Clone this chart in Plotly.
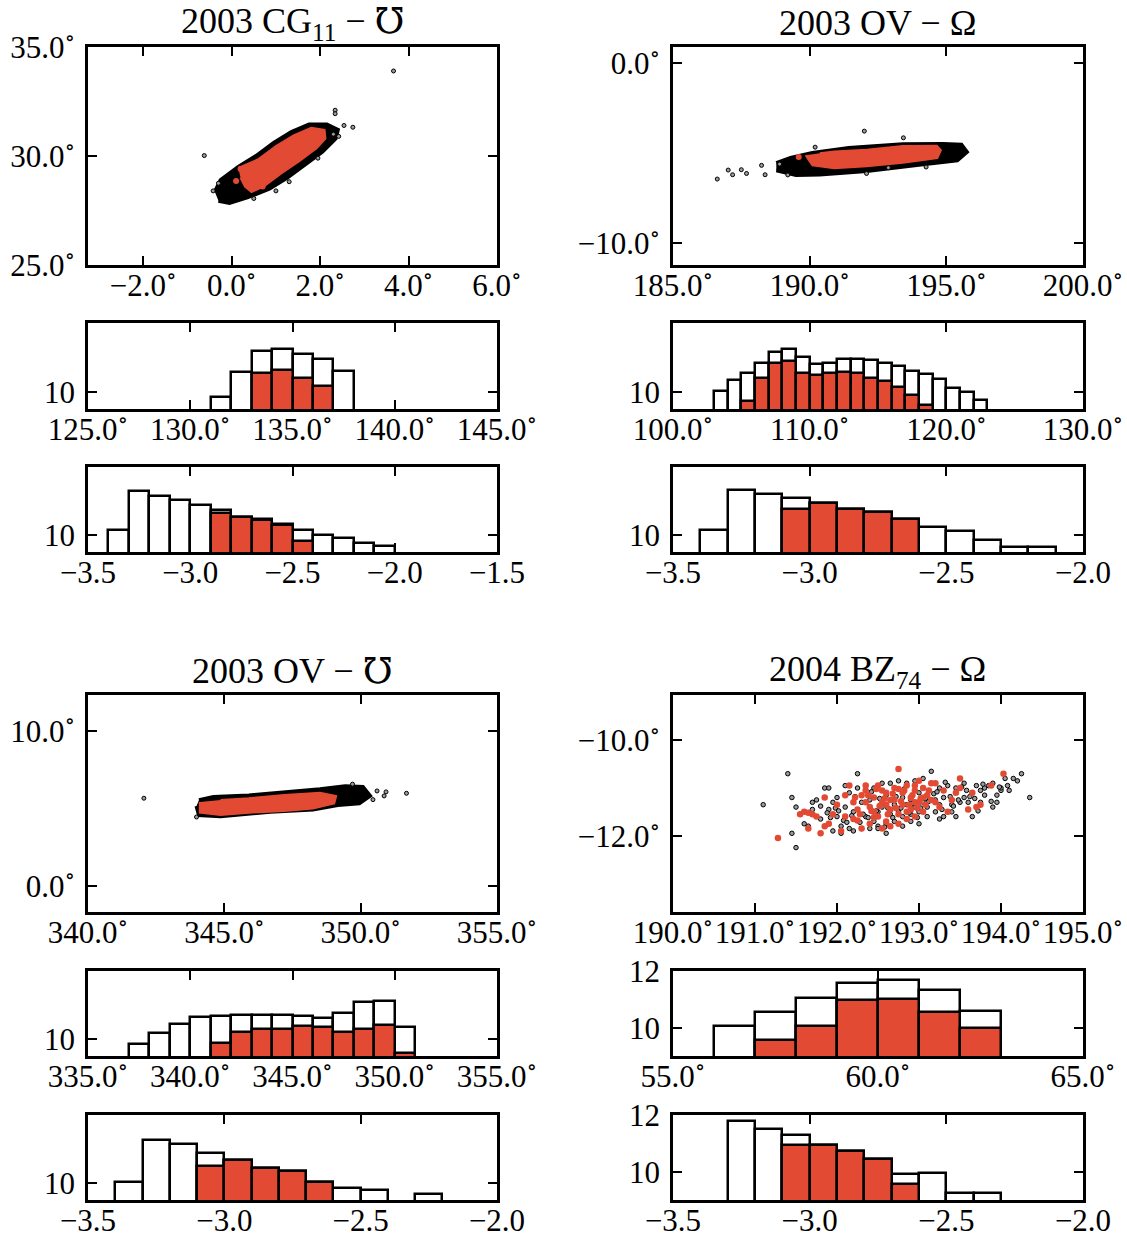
import plotly.graph_objects as go

W, H = 1127, 1236          # screenshot size (page margin removed below)
RED = "#E24A33"
FONT = "Liberation Serif, Times New Roman, DejaVu Serif, serif"
TICK_SIZE = 31
TITLE_SIZE = 36

# ---------------- titles ----------------
titles = ["2003 CG<sub>11</sub> − ℧", "2003 OV − Ω", "2003 OV − ℧", "2004 BZ<sub>74</sub> − Ω"]

# ---------------- scatter panels: dense-cloud outlines + individual points ----------------
# Panel A : 2003 CG11
a_black_x = [-0.38, -0.25, 0.15, 0.55, 0.95, 1.35, 1.75, 2.15, 2.40, 2.35, 2.05, 1.65, 1.25, 0.85, 0.35, -0.05, -0.30]
a_black_y = [28.35, 28.90, 29.50, 30.00, 30.60, 31.10, 31.45, 31.45, 31.20, 30.80, 30.20, 29.60, 29.00, 28.50, 28.10, 27.85, 27.95]
a_red_x = [0.15, 0.60, 1.00, 1.40, 1.80, 2.10, 2.12, 1.92, 1.52, 1.12, 0.72, 0.45, 0.30, 0.20]
a_red_y = [29.45, 29.85, 30.45, 30.95, 31.30, 31.20, 30.80, 30.35, 29.75, 29.20, 28.60, 28.35, 28.60, 29.00]
a_pts_x = [-0.62, 3.66, 2.34, 2.34, 2.54, 2.74, 1.30, 2.30, -0.42, -0.30, 0.50, 1.95, 2.42, 1.00]
a_pts_y = [30.02, 33.90, 32.10, 31.94, 31.40, 31.32, 28.82, 31.00, 28.40, 28.75, 28.05, 29.90, 30.90, 28.40]
a_rpts_x = [0.20, 0.10, 0.95, 0.70]
a_rpts_y = [29.40, 28.85, 30.10, 28.60]

# Panel B : 2003 OV (Omega)
b_black_x = [188.78, 189.50, 190.37, 192.09, 194.07, 195.40, 195.75, 195.55, 194.87, 193.41, 191.43, 190.10, 189.30, 188.78]
b_black_y = [-5.95, -6.20, -6.18, -5.98, -5.62, -5.39, -4.93, -4.52, -4.48, -4.50, -4.70, -4.98, -5.25, -5.55]
b_red_x = [189.85, 190.10, 190.90, 192.09, 193.41, 194.67, 194.80, 194.65, 193.41, 192.09, 190.90, 190.37]
b_red_y = [-5.11, -5.67, -5.83, -5.72, -5.52, -5.26, -4.83, -4.58, -4.60, -4.80, -4.90, -5.00]
b_pts_x = [186.62, 187.02, 187.18, 187.50, 187.69, 188.24, 188.37, 192.00, 193.43, 190.20, 192.08, 194.26, 192.88, 188.90, 189.20]
b_pts_y = [-6.43, -5.93, -6.19, -5.91, -6.12, -5.67, -6.19, -3.77, -4.14, -4.66, -6.12, -5.76, -5.80, -5.60, -6.20]
b_rpts_x = [190.30, 190.60, 189.60]
b_rpts_y = [-5.40, -5.10, -5.20]

# Panel C : 2003 OV (varpi)
c_black_x = [343.98, 344.07, 344.86, 346.68, 348.25, 349.16, 349.95, 350.34, 350.08, 349.43, 348.51, 347.20, 345.90, 344.60, 344.07]
c_black_y = [5.14, 4.55, 4.48, 4.76, 4.92, 5.20, 5.32, 5.79, 6.36, 6.42, 6.22, 6.00, 5.82, 5.72, 5.52]
c_red_x = [344.10, 344.10, 344.86, 345.90, 347.20, 348.25, 349.03, 349.10, 348.51, 347.20, 345.90, 344.86]
c_red_y = [5.40, 4.71, 4.56, 4.71, 4.82, 4.97, 5.31, 5.79, 6.00, 5.85, 5.64, 5.53]
c_pts_x = [342.05, 351.68, 343.98, 350.60, 350.93, 350.86, 350.45, 349.70]
c_pts_y = [5.64, 5.96, 4.43, 6.11, 6.05, 5.79, 5.55, 6.55]
c_rpts_x = []
c_rpts_y = []

# Panel D : 2004 BZ74 (sparse cloud, individual points)
d_black_x = [191.10, 191.40, 191.50, 191.45, 194.35, 194.25, 194.15, 194.20, 194.05, 193.15, 192.25,
             191.55, 191.50, 191.60, 191.65, 191.70, 191.75, 191.80, 191.85, 191.90, 191.95, 192.00,
             192.05, 192.10, 192.15, 192.20, 192.25, 192.30, 192.35, 192.40, 192.45, 192.50, 192.55,
             192.60, 192.65, 192.70, 192.75, 192.80, 192.85, 192.90, 192.95, 193.00, 193.05, 193.10,
             193.15, 193.20, 193.25, 193.30, 193.35, 193.40, 193.45, 193.50, 193.55, 193.60, 193.65,
             193.70, 193.75, 193.80, 193.85, 193.90, 193.95, 194.00, 193.45, 193.30, 192.30, 192.50,
             192.60, 192.70, 192.80, 192.90, 193.00, 192.20, 192.10, 192.00, 191.90, 192.40, 192.55,
             192.75, 192.95, 193.10, 193.20, 193.40, 193.55, 193.75, 191.95, 192.05, 192.15, 192.35,
             192.45, 192.65, 192.85, 193.05, 193.25, 193.35, 193.60, 193.80, 193.90, 194.10, 193.65,
             193.25, 192.90, 192.60, 192.50, 192.80, 193.00, 193.10, 191.45, 194.00, 193.95,
             191.70, 191.80, 191.88, 191.98, 192.08, 192.18, 192.28, 192.38, 192.48, 192.58, 192.68,
             192.78, 192.88, 192.98, 193.08, 193.18, 193.28, 193.38, 193.48, 193.58, 193.68, 193.78,
             193.88, 193.98, 194.08, 191.92, 192.02, 192.12, 192.22, 192.32, 192.42, 192.52, 192.62,
             192.72, 192.82, 192.92, 193.02, 193.12, 193.22, 193.32, 193.42, 193.52, 193.62, 193.72]
d_black_y = [-11.35, -10.70, -12.25, -11.95, -11.20, -10.70, -10.80, -10.85, -10.80, -10.65, -10.70,
             -11.55, -11.40, -11.75, -11.80, -11.30, -11.25, -11.65, -11.00, -11.00, -11.90, -11.20,
             -11.95, -10.95, -11.85, -11.90, -11.00, -11.85, -10.95, -11.85, -11.00, -11.80, -10.90,
             -11.75, -10.90, -11.70, -10.85, -11.60, -10.90, -11.55, -10.85, -11.50, -10.80, -11.40,
             -10.90, -11.50, -11.00, -11.20, -10.95, -11.50, -11.00, -11.30, -10.90, -11.45, -11.10,
             -10.95, -11.30, -11.15, -10.95, -11.40, -11.15, -11.05, -11.60, -11.60, -11.30, -11.50,
             -11.15, -11.35, -11.20, -11.25, -11.10, -11.50, -11.40, -11.60, -11.45, -11.25, -11.40,
             -11.50, -11.40, -11.15, -11.25, -11.35, -11.20, -11.05, -11.30, -11.80, -11.10, -11.60,
             -11.70, -11.55, -11.35, -11.30, -11.35, -11.50, -11.30, -11.00, -10.90, -11.05, -11.60,
             -11.65, -11.70, -11.95, -11.85, -11.80, -11.75, -11.60, -11.20, -11.00, -11.30,
             -11.45, -11.38, -11.52, -11.42, -11.68, -11.58, -11.72, -11.62, -11.48, -11.82, -11.62,
             -11.42, -11.52, -11.62, -11.22, -11.12, -11.45, -11.18, -11.25, -11.05, -11.22, -10.92,
             -11.28, -10.98, -10.95, -11.62, -11.48, -11.72, -11.18, -11.55, -11.08, -11.22, -11.42,
             -11.18, -11.02, -11.32, -11.42, -11.28, -11.08, -10.88, -11.38, -10.98, -11.18, -11.48]
d_red_x = [191.28, 191.55, 191.60, 191.65, 191.70, 191.75, 191.65, 191.80, 191.85, 191.90, 191.85,
           192.00, 192.05, 192.10, 192.15, 192.20, 192.25, 192.30, 192.30, 192.35, 192.40, 192.45,
           192.50, 192.50, 192.55, 192.60, 192.60, 192.65, 192.70, 192.70, 192.75, 192.75, 192.80,
           192.80, 192.85, 192.85, 192.90, 192.95, 192.95, 193.00, 193.00, 193.05, 193.10, 193.15,
           193.20, 193.25, 193.30, 193.35, 193.45, 193.50, 193.50, 193.60, 193.65, 193.70, 193.75,
           193.88, 194.03, 192.40, 192.55, 192.20, 192.65, 192.45, 192.90, 193.05, 191.95, 192.10,
           193.20, 193.40, 192.35, 192.60, 192.75, 192.95,
           192.22, 192.28, 192.38, 192.42, 192.48, 192.52, 192.58, 192.62, 192.68, 192.72, 192.78,
           192.82, 192.88, 192.92, 192.98, 193.02, 193.08, 193.12, 192.25, 192.45, 192.65, 192.85,
           193.05, 192.35, 192.55, 192.75, 192.95, 193.15]
d_red_y = [-12.05, -11.55, -11.50, -11.52, -11.55, -11.60, -11.85, -11.95, -11.80, -11.75, -11.20,
           -11.35, -11.90, -11.60, -10.95, -11.30, -11.45, -11.15, -11.85, -11.05, -11.40, -11.20,
           -11.60, -10.95, -11.30, -11.10, -11.70, -11.45, -11.00, -11.25, -10.60, -11.55, -11.10,
           -11.35, -10.95, -11.65, -11.20, -11.05, -11.60, -10.85, -11.30, -11.00, -11.15, -10.90,
           -11.30, -11.40, -11.05, -11.50, -11.10, -10.80, -11.00, -11.45, -11.10, -11.40, -11.35,
           -10.95, -10.70, -11.75, -11.85, -11.65, -11.80, -11.50, -11.45, -11.50, -11.55, -11.15,
           -10.90, -11.25, -11.30, -11.35, -11.75, -10.95,
           -11.20, -11.55, -11.15, -11.48, -11.02, -11.38, -11.22, -11.55, -11.12, -11.42, -11.28,
           -11.05, -11.35, -11.15, -11.42, -11.22, -11.35, -11.05, -11.68, -11.62, -11.25, -11.50,
           -11.20, -10.95, -11.05, -11.02, -11.30, -11.25]

# ---------------- histograms (bin left edges, bin width, heights) ----------------
a_h1_bins = [131, 132, 133, 134, 135, 136, 137]
a_h1_w = 1.0
a_h1_all = [9.69, 11.14, 12.40, 12.47, 12.20, 11.88, 11.20]
a_h1_sel = [None, None, 11.12, 11.24, 10.81, 10.31, None]

a_h2_bins = [-3.4, -3.3, -3.2, -3.1, -3.0, -2.9, -2.8, -2.7, -2.6, -2.5, -2.4, -2.3, -2.2, -2.1]
a_h2_w = 0.1
a_h2_all = [10.28, 12.57, 12.32, 12.06, 11.74, 11.49, 11.08, 10.92, 10.62, 10.28, 10.02, 9.83, 9.53, 9.36]
a_h2_sel = [None, None, None, None, None, 11.28, 11.04, 10.91, 10.60, 9.62, None, None, None, None]

b_h1_bins = [103, 104, 105, 106, 107, 108, 109, 110, 111, 112, 113, 114, 115, 116, 117, 118, 119, 120, 121, 122]
b_h1_w = 1.0
b_h1_all = [10.04, 10.68, 11.07, 11.70, 12.32, 12.51, 12.03, 11.64, 11.70, 11.88, 11.90, 11.84, 11.70, 11.49,
            11.22, 11.01, 10.72, 10.25, 9.98, 9.50]
b_h1_sel = [None, None, 9.46, 10.78, 11.68, 11.80, 11.10, 10.97, 11.10, 11.14, 11.07, 10.81, 10.64, 10.29,
            9.81, 9.23, None, None, None, None]

b_h2_bins = [-3.4, -3.3, -3.2, -3.1, -3.0, -2.9, -2.8, -2.7, -2.6, -2.5, -2.4, -2.3, -2.2]
b_h2_w = 0.1
b_h2_all = [10.28, 12.64, 12.43, 12.16, 11.91, 11.53, 11.34, 10.93, 10.49, 10.26, 9.69, 9.27, 9.27]
b_h2_sel = [None, None, None, 11.53, 11.91, 11.53, 11.34, 10.93, None, None, None, None, None]

c_h1_bins = [337, 338, 339, 340, 341, 342, 343, 344, 345, 346, 347, 348, 349, 350]
c_h1_w = 1.0
c_h1_all = [9.70, 10.36, 10.87, 11.32, 11.33, 11.43, 11.41, 11.43, 11.33, 11.26, 11.55, 12.15, 12.25, 10.69]
c_h1_sel = [None, None, None, None, 9.74, 10.44, 10.60, 10.56, 10.75, 10.71, 10.44, 10.60, 10.81, 9.19]

c_h2_bins = [-3.4, -3.3, -3.2, -3.1, -3.0, -2.9, -2.8, -2.7, -2.6, -2.5, -2.4, -2.3]
c_h2_w = 0.1
c_h2_all = [10.03, 12.53, 12.28, 11.75, 11.33, 10.90, 10.71, 10.07, 9.68, 9.58, None, 9.33]
c_h2_sel = [None, None, None, 11.00, 11.33, 10.90, 10.71, 10.07, None, None, None, None]

d_h1_bins = [56, 57, 58, 59, 60, 61, 62]
d_h1_w = 1.0
d_h1_all = [10.05, 10.55, 11.06, 11.56, 11.67, 11.33, 10.60]
d_h1_sel = [None, 9.58, 10.07, 10.97, 11.01, 10.55, 9.98]

d_h2_bins = [-3.3, -3.2, -3.1, -3.0, -2.9, -2.8, -2.7, -2.6, -2.5, -2.4]
d_h2_w = 0.1
d_h2_all = [11.78, 11.51, 11.28, 10.95, 10.74, 10.45, 9.92, 9.95, 9.26, 9.26]
d_h2_sel = [None, None, 10.93, 10.95, 10.74, 10.45, 9.56, None, None, None]

# ---------------- axis ranges / ticks ----------------
a_sc_xr, a_sc_yr = [-3.25, 6.0], [25.0, 35.0]
a_sc_xt, a_sc_yt = [-2, 0, 2, 4, 6], [25, 30, 35]
b_sc_xr, b_sc_yr = [185.0, 200.0], [-11.2, 0.9]
b_sc_xt, b_sc_yt = [185, 190, 195, 200], [-10, 0]
c_sc_xr, c_sc_yr = [340.0, 355.0], [-1.7, 12.3]
c_sc_xt, c_sc_yt = [340, 345, 350, 355], [0, 10]
d_sc_xr, d_sc_yr = [190.0, 195.0], [-13.6, -9.05]
d_sc_xt, d_sc_yt = [190, 191, 192, 193, 194, 195], [-12, -10]

a_h1_xr, a_h1_xt = [125, 145], [125, 130, 135, 140, 145]
b_h1_xr, b_h1_xt = [100, 130], [100, 110, 120, 130]
c_h1_xr, c_h1_xt = [335, 355], [335, 340, 345, 350, 355]
d_h1_xr, d_h1_xt = [55, 65], [55, 60, 65]
a_h2_xr, a_h2_xt = [-3.5, -1.5], [-3.5, -3.0, -2.5, -2.0, -1.5]
bcd_h2_xr, bcd_h2_xt = [-3.5, -2.0], [-3.5, -3.0, -2.5, -2.0]
hist_yr, hist_yt = [9.0, 14.0], [10]
d_hist_yr, d_hist_yt = [9.0, 12.0], [10, 12]

# ---------------- layout geometry (screenshot pixels) ----------------
cols = [(88, 497), (673, 1083)]
rows_top = [(47, 265), (323, 409), (467, 552)]
rows_bot = [(695, 912), (971, 1056), (1115, 1200)]


def deg(v):
    return f"{v:.1f}".replace("-", "−") + "<sup>∘</sup>"


def plain(v):
    return f"{v:.1f}".replace("-", "−")


def intl(v):
    return f"{v:d}"


fig = go.Figure()
layout = {}
axis_id = [0]


def px_x(p):
    return p / W


def px_y(p):
    return 1 - p / H


def new_axes(xpix, ypix, xr, yr, xt, xtxt, yt, ytxt):
    axis_id[0] += 1
    i = axis_id[0]
    xd = [px_x(xpix[0]), px_x(xpix[1])]
    yd = [px_y(ypix[1]), px_y(ypix[0])]
    common = dict(showgrid=False, zeroline=False, showline=True, linecolor="black", linewidth=2.5,
                  mirror="ticks", ticks="inside", ticklen=9, tickwidth=1.5, tickcolor="black",
                  automargin=False, tickangle=0, ticklabeloverflow="allow",
                  tickfont=dict(family=FONT, size=TICK_SIZE, color="black"), layer="above traces")
    sx = "" if i == 1 else str(i)
    layout["xaxis" + sx] = dict(domain=xd, range=xr, anchor="y" + sx, tickvals=xt, ticktext=xtxt,
                                ticklabelstandoff=-9, **common)
    layout["yaxis" + sx] = dict(domain=yd, range=yr, anchor="x" + sx, tickvals=yt, ticktext=ytxt,
                                ticklabelstandoff=4, **common)
    return "x" + sx, "y" + sx


def add_scatter_panel(xa, ya, bx, by, rx, ry, px, py, rpx, rpy, dense=True):
    if dense:
        fig.add_trace(go.Scatter(x=bx, y=by, mode="lines", fill="toself", fillcolor="black",
                                 line=dict(color="black", width=4), xaxis=xa, yaxis=ya, showlegend=False))
        fig.add_trace(go.Scatter(x=px, y=py, mode="markers",
                                 marker=dict(size=4, color="#9a9a9a", line=dict(color="black", width=1)),
                                 xaxis=xa, yaxis=ya, showlegend=False))
        fig.add_trace(go.Scatter(x=rx, y=ry, mode="lines", fill="toself", fillcolor=RED,
                                 line=dict(color=RED, width=2), xaxis=xa, yaxis=ya, showlegend=False))
        if rpx:
            fig.add_trace(go.Scatter(x=rpx, y=rpy, mode="markers", marker=dict(size=6, color=RED),
                                     xaxis=xa, yaxis=ya, showlegend=False))
    else:
        fig.add_trace(go.Scatter(x=bx, y=by, mode="markers",
                                 marker=dict(size=4.5, color="#9a9a9a", line=dict(color="black", width=1)),
                                 xaxis=xa, yaxis=ya, showlegend=False))
        fig.add_trace(go.Scatter(x=rx, y=ry, mode="markers", marker=dict(size=6.5, color=RED),
                                 xaxis=xa, yaxis=ya, showlegend=False))


def add_hist(xa, ya, bins, w, allv, selv):
    centers = [b + w / 2 for b in bins]
    fig.add_trace(go.Bar(x=centers, y=allv, width=w, marker=dict(color="white", line=dict(color="black", width=2.5)),
                         xaxis=xa, yaxis=ya, showlegend=False))
    fig.add_trace(go.Bar(x=centers, y=selv, width=w, marker=dict(color=RED, line=dict(color="black", width=2.5)),
                         xaxis=xa, yaxis=ya, showlegend=False))


panels = [
    dict(col=0, rows=rows_top, title=titles[0],
         sc=(a_sc_xr, a_sc_yr, a_sc_xt, a_sc_yt), data=(a_black_x, a_black_y, a_red_x, a_red_y, a_pts_x, a_pts_y, a_rpts_x, a_rpts_y), dense=True,
         h1=(a_h1_xr, a_h1_xt, a_h1_bins, a_h1_w, a_h1_all, a_h1_sel),
         h2=(a_h2_xr, a_h2_xt, a_h2_bins, a_h2_w, a_h2_all, a_h2_sel), hy=(hist_yr, hist_yt)),
    dict(col=1, rows=rows_top, title=titles[1],
         sc=(b_sc_xr, b_sc_yr, b_sc_xt, b_sc_yt), data=(b_black_x, b_black_y, b_red_x, b_red_y, b_pts_x, b_pts_y, b_rpts_x, b_rpts_y), dense=True,
         h1=(b_h1_xr, b_h1_xt, b_h1_bins, b_h1_w, b_h1_all, b_h1_sel),
         h2=(bcd_h2_xr, bcd_h2_xt, b_h2_bins, b_h2_w, b_h2_all, b_h2_sel), hy=(hist_yr, hist_yt)),
    dict(col=0, rows=rows_bot, title=titles[2],
         sc=(c_sc_xr, c_sc_yr, c_sc_xt, c_sc_yt), data=(c_black_x, c_black_y, c_red_x, c_red_y, c_pts_x, c_pts_y, c_rpts_x, c_rpts_y), dense=True,
         h1=(c_h1_xr, c_h1_xt, c_h1_bins, c_h1_w, c_h1_all, c_h1_sel),
         h2=(bcd_h2_xr, bcd_h2_xt, c_h2_bins, c_h2_w, c_h2_all, c_h2_sel), hy=(hist_yr, hist_yt)),
    dict(col=1, rows=rows_bot, title=titles[3],
         sc=(d_sc_xr, d_sc_yr, d_sc_xt, d_sc_yt), data=(d_black_x, d_black_y, d_red_x, d_red_y, None, None, None, None), dense=False,
         h1=(d_h1_xr, d_h1_xt, d_h1_bins, d_h1_w, d_h1_all, d_h1_sel),
         h2=(bcd_h2_xr, bcd_h2_xt, d_h2_bins, d_h2_w, d_h2_all, d_h2_sel), hy=(d_hist_yr, d_hist_yt)),
]

annotations = []
for p in panels:
    xpix = cols[p["col"]]
    xr, yr, xt, yt = p["sc"]
    xa, ya = new_axes(xpix, p["rows"][0], xr, yr, xt, [deg(v) for v in xt], yt, [deg(v) for v in yt])
    bx, by, rx, ry, px, py, rpx, rpy = p["data"]
    add_scatter_panel(xa, ya, bx, by, rx, ry, px, py, rpx, rpy, dense=p["dense"])
    hyr, hyt = p["hy"]
    for key, rowpix, fmt in (("h1", p["rows"][1], deg), ("h2", p["rows"][2], plain)):
        hxr, hxt, bins, w, allv, selv = p[key]
        xa, ya = new_axes(xpix, rowpix, hxr, hyr, hxt, [fmt(v) for v in hxt], hyt, [intl(v) for v in hyt])
        add_hist(xa, ya, bins, w, allv, selv)
    annotations.append(dict(text=p["title"], x=px_x((xpix[0] + xpix[1]) / 2), y=px_y(p["rows"][0][0] - 24),
                            xref="paper", yref="paper", xanchor="center", yanchor="middle", showarrow=False,
                            font=dict(family=FONT, size=TITLE_SIZE, color="black")))

fig.update_layout(**layout)
fig.update_layout(width=W, height=H, margin=dict(l=0, r=0, t=0, b=0, autoexpand=False), paper_bgcolor="white",
                  plot_bgcolor="white", barmode="overlay", bargap=0, annotations=annotations,
                  font=dict(family=FONT, color="black"))
fig.write_html("out.html", config={"displayModeBar": False},
               post_script="document.body.style.margin='0px';document.body.style.overflow='hidden';")
